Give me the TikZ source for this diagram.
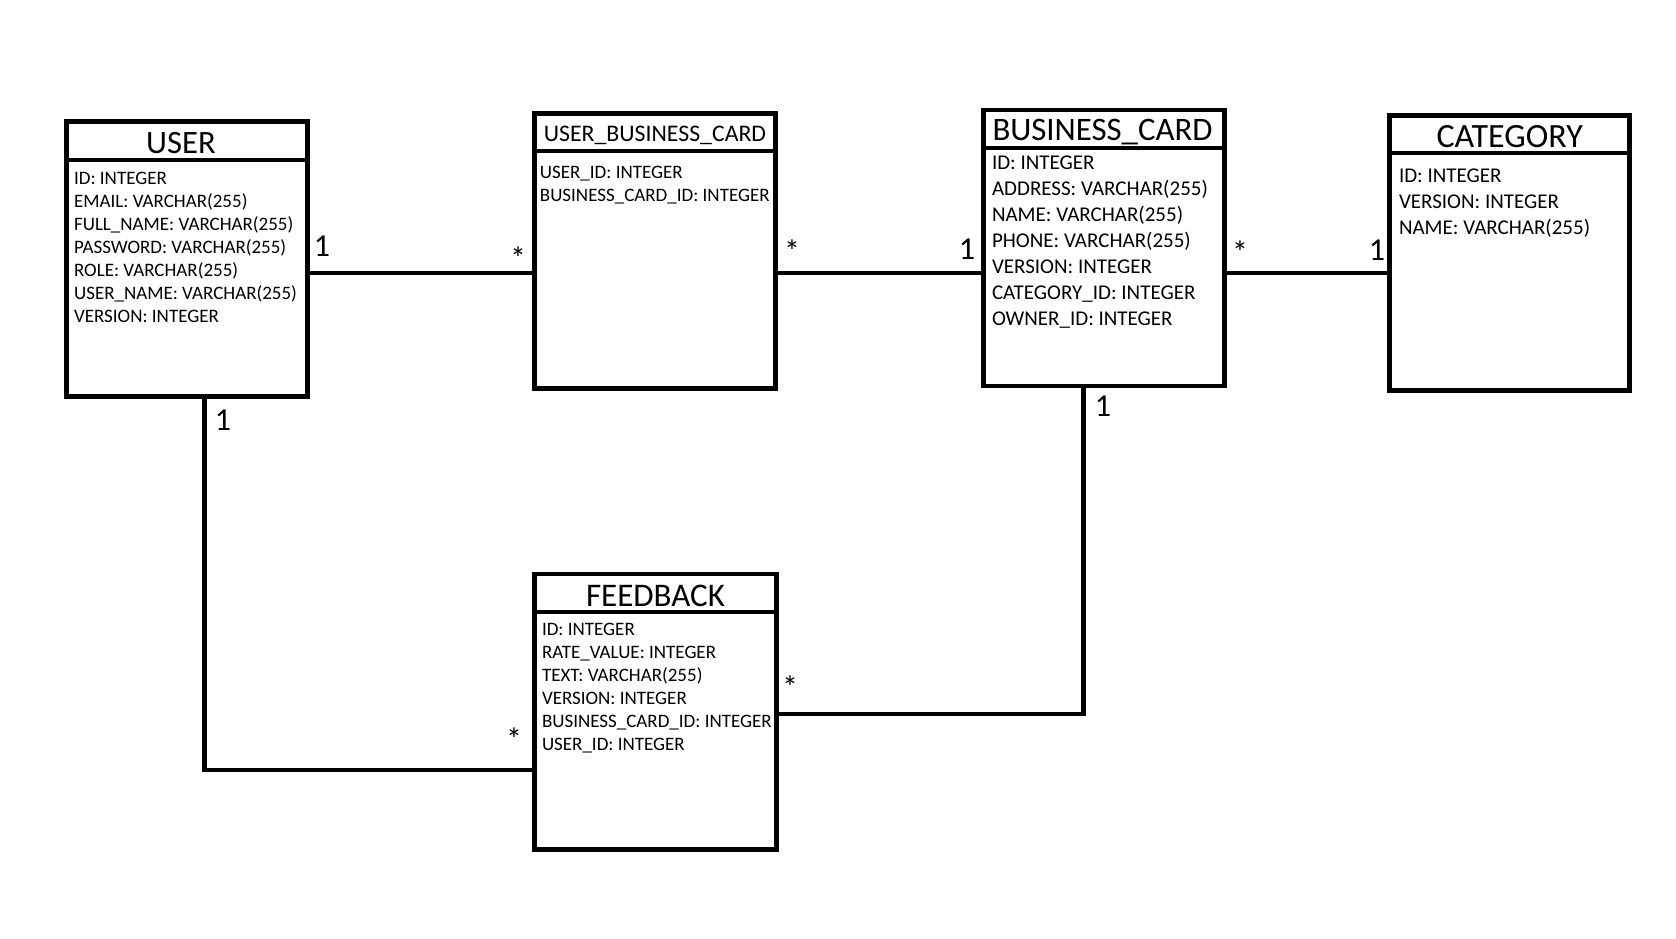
\documentclass[tikz,border=0pt]{standalone}
\usepackage{fontspec}
\setmainfont{Carlito}
\usetikzlibrary{calc}
\tikzset{
    erd/diagram/.style={
        x=0.5pt, y=-0.5pt,
        draw=black,
        text=black,
        line join=miter,
        every node/.style={inner sep=0pt, outer sep=0pt}
    },
    erd/table/.style={draw=black, line width=2.35pt, rectangle, inner sep=0pt},
    erd/rule/.style={draw=black, line width=2pt},
    erd/link/.style={draw=black, line width=2.35pt},
    erd/title/.style={anchor=base, font=\fontsize{16.5}{18}\selectfont},
    erd/attrs/.style={anchor=north west, align=left,
        font=\fontsize{9.5}{11.5}\selectfont},
    erd/attrs wide/.style={anchor=north west, align=left,
        font=\fontsize{10.5}{13}\selectfont},
    erd/mult/.style={anchor=base, font=\fontsize{16}{18}\selectfont}
}

\begin{document}
\begin{tikzpicture}[erd/diagram]
    \useasboundingbox (0,0) rectangle (1676,938);
    % tables
    \node[erd/table, minimum width=120.6pt, minimum height=137.3pt] (user) at (187,259) {};
    \node[erd/table, minimum width=120.75pt, minimum height=137.75pt] (ubc) at (655,251) {};
    \node[erd/table, minimum width=120.2pt, minimum height=138pt] (card) at (1104,248) {};
    \node[erd/table, minimum width=120pt, minimum height=137.5pt] (category) at (1509.7,253.3) {};
    \node[erd/table, minimum width=120.8pt, minimum height=137.85pt] (feedback) at (655.5,711.85) {};
    \draw[erd/rule] ($(user.north west)+(0,38)$) -- ($(user.north east)+(0,38)$);
    \draw[erd/rule] ($(ubc.north west)+(0,37.7)$) -- ($(ubc.north east)+(0,37.7)$);
    \draw[erd/rule] ($(card.north west)+(0,38)$) -- ($(card.north east)+(0,38)$);
    \draw[erd/rule] ($(category.north west)+(0,37.5)$) -- ($(category.north east)+(0,37.5)$);
    \draw[erd/rule] ($(feedback.north west)+(0,37.7)$) -- ($(feedback.north east)+(0,37.7)$);
    % titles
    \node[erd/title, font=\fontsize{16.3}{18}\selectfont] (user title)
        at ($(user.north)+(-6,31.3)$) {USER};
    \node[erd/title, font=\fontsize{11.9}{13}\selectfont] (ubc title)
        at ($(ubc.north)+(0,28.7)$) {USER\_BUSINESS\_CARD};
    \node[erd/title, font=\fontsize{16.4}{18}\selectfont] (card title)
        at ($(card.north)+(-1.5,30)$) {BUSINESS\_CARD};
    \node[erd/title, font=\fontsize{17}{18}\selectfont] (category title)
        at ($(category.north)+(0,31.2)$) {CATEGORY};
    \node[erd/title] (feedback title) at ($(feedback.north)+(0,32)$) {FEEDBACK};
    % columns
    \node[erd/attrs] (user attrs) at ($(user.north west)+(7.7,50.3)$)
        {ID: INTEGER\\EMAIL: VARCHAR(255)\\FULL\_NAME: VARCHAR(255)\\
         PASSWORD: VARCHAR(255)\\ROLE: VARCHAR(255)\\
         USER\_NAME: VARCHAR(255)\\VERSION: INTEGER};
    \node[erd/attrs] (ubc attrs) at ($(ubc.north west)+(5.7,52.7)$)
        {USER\_ID: INTEGER\\BUSINESS\_CARD\_ID: INTEGER};
    \node[erd/attrs wide] (card attrs) at ($(card.north west)+(8.2,45.6)$)
        {ID: INTEGER\\ADDRESS: VARCHAR(255)\\NAME: VARCHAR(255)\\
         PHONE: VARCHAR(255)\\VERSION: INTEGER\\CATEGORY\_ID: INTEGER\\
         OWNER\_ID: INTEGER};
    \node[erd/attrs wide] (category attrs) at ($(category.north west)+(9.3,52.8)$)
        {ID: INTEGER\\VERSION: INTEGER\\NAME: VARCHAR(255)};
    \node[erd/attrs] (feedback attrs) at ($(feedback.north west)+(7.3,49)$)
        {ID: INTEGER\\RATE\_VALUE: INTEGER\\TEXT: VARCHAR(255)\\
         VERSION: INTEGER\\BUSINESS\_CARD\_ID: INTEGER\\USER\_ID: INTEGER};
    % relations
    \coordinate (row) at (0,273);
    \draw[erd/link] (user.east |- row) -- (ubc.west |- row);
    \draw[erd/link] (ubc.east |- row) -- (card.west |- row);
    \draw[erd/link] (card.east |- row) -- (category.west |- row);
    \draw[erd/link] ($(user.south)+(17.3,0)$) |- ($(feedback.west)+(0,58)$);
    \draw[erd/link] ($(card.south)+(-20.8,0)$) |- ($(feedback.east)+(0,2)$);
    % multiplicities
    \node[erd/mult] (m user ubc) at (322,256) {1};
    \node[erd/mult] (m ubc user) at (518,269) {*};
    \node[erd/mult] (m ubc card) at (792,262) {*};
    \node[erd/mult] (m card ubc) at (967,259.5) {1};
    \node[erd/mult] (m card category) at (1240,263) {*};
    \node[erd/mult] (m category card) at (1377,260) {1};
    \node[erd/mult] (m user feedback) at (223,430) {1};
    \node[erd/mult] (m card feedback) at (1103,416.5) {1};
    \node[erd/mult] (m feedback user) at (514,750) {*};
    \node[erd/mult] (m feedback card) at (790,698) {*};
\end{tikzpicture}
\end{document}
